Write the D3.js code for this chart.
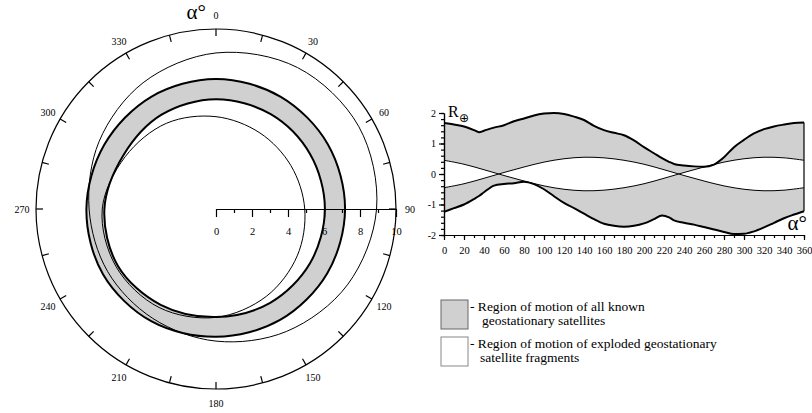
<!DOCTYPE html>
<html>
<head>
<meta charset="utf-8">
<script src="https://cdn.jsdelivr.net/npm/d3@7"></script>
<style>
  body { margin: 0; background: #fff; }
  svg { display: block; }
  svg text { font-family: "Liberation Serif", "Times New Roman", serif !important; fill: #000; }
  svg text.sym { font-family: "DejaVu Sans", sans-serif !important; }
</style>
</head>
<body>
<svg id="chart" width="812" height="413"></svg>
<script>
// ---- polar plot data (radius vs alpha, degrees clockwise from top)
var polarAngles = [0, 30, 60, 90, 120, 150, 180, 210, 240, 270, 300, 330];
var ringOuter = [7.22, 7.20, 7.18, 7.17, 7.14, 7.12, 7.10, 7.20, 7.25, 7.20, 7.16, 7.20];
var ringInner = [6.10, 6.08, 6.05, 6.05, 6.03, 6.02, 6.00, 6.15, 6.30, 6.20, 5.95, 6.05];
var fragOuter = [8.67, 9.07, 9.16, 8.92, 8.43, 7.85, 7.34, 7.02, 6.95, 7.05, 7.50, 8.10];
var fragInner = [5.13, 4.88, 4.81, 4.93, 5.21, 5.60, 6.02, 6.32, 6.41, 6.32, 5.82, 5.50];
var angleLabels = [0, 30, 60, 90, 120, 150, 180, 210, 240, 270, 300, 330];
var radialLabels = [0, 2, 4, 6, 8, 10];

// ---- right plot data (R vs alpha)
var bandAlpha = [0, 10, 20, 30, 35, 40, 50, 60, 70, 80, 90, 100, 110, 120, 130, 140, 150, 160, 170, 180,
                 190, 200, 210, 218, 225, 230, 240, 250, 260, 270, 280, 290, 300, 310, 320, 330, 340, 350, 360];
var upperR = [1.67, 1.62, 1.56, 1.44, 1.37, 1.42, 1.52, 1.60, 1.73, 1.82, 1.92, 1.98, 2.00, 1.97, 1.88, 1.77, 1.58, 1.44, 1.35, 1.27,
              1.10, 0.88, 0.68, 0.52, 0.40, 0.33, 0.28, 0.25, 0.24, 0.31, 0.55, 0.88, 1.12, 1.33, 1.47, 1.56, 1.62, 1.67, 1.69];
var lowerR = [-1.24, -1.12, -1.00, -0.82, -0.72, -0.60, -0.38, -0.33, -0.30, -0.25, -0.33, -0.50, -0.73, -0.95, -1.12, -1.30, -1.48, -1.63, -1.70, -1.73,
              -1.70, -1.62, -1.48, -1.36, -1.42, -1.52, -1.60, -1.66, -1.74, -1.82, -1.90, -1.97, -1.96, -1.88, -1.75, -1.60, -1.45, -1.33, -1.22];
var waveAlpha = [0, 20, 40, 60, 80, 100, 120, 140, 160, 180, 200, 220, 240, 260, 280, 300, 320, 340, 360];
var waveDown = [0.45, 0.32, 0.14, -0.05, -0.23, -0.39, -0.50, -0.55, -0.53, -0.45, -0.32, -0.14, 0.05, 0.23, 0.39, 0.50, 0.55, 0.53, 0.45];
var waveUp = [-0.45, -0.32, -0.14, 0.05, 0.23, 0.39, 0.50, 0.55, 0.53, 0.45, 0.32, 0.14, -0.05, -0.23, -0.39, -0.50, -0.55, -0.53, -0.45];
var xTickLabels = [0, 20, 40, 60, 80, 100, 120, 140, 160, 180, 200, 220, 240, 260, 280, 300, 320, 340, 360];
var yTickLabels = [-2, -1, 0, 1, 2];

var legendItems = [
  { fill: "#d0d0d0", stroke: "#666", lines: ["- Region of motion of all known", "geostationary satellites"] },
  { fill: "#fff", stroke: "#888", lines: ["- Region of motion of exploded geostationary", "satellite fragments"] }
];

var gray = "#d0d0d0";
var svg = d3.select("#chart");

// ================= polar plot =================
var cx = 216, cy = 209;
var r = d3.scaleLinear().domain([0, 10]).range([0, 180]);
var polar = svg.append("g").attr("transform", "translate(" + cx + "," + cy + ")");

function pts(radii) {
  return polarAngles.map(function(a, i) { return [a, radii[i]]; });
}
var radial = d3.lineRadial()
  .angle(function(d) { return d[0] * Math.PI / 180; })
  .radius(function(d) { return r(d[1]); })
  .curve(d3.curveCatmullRomClosed.alpha(0.5));

// gray ring
polar.append("path")
  .attr("d", radial(pts(ringOuter)) + radial(pts(ringInner)))
  .attr("fill", gray)
  .attr("fill-rule", "evenodd");

// fragment curves (thin)
[fragOuter, fragInner].forEach(function(rr) {
  polar.append("path").attr("d", radial(pts(rr)))
    .attr("fill", "none").attr("stroke", "#000").attr("stroke-width", 1);
});
// ring boundaries (thick)
[ringOuter, ringInner].forEach(function(rr) {
  polar.append("path").attr("d", radial(pts(rr)))
    .attr("fill", "none").attr("stroke", "#000").attr("stroke-width", 2);
});

// outer circle
polar.append("circle").attr("r", r(10))
  .attr("fill", "none").attr("stroke", "#000").attr("stroke-width", 1.2);

// angular ticks every 15 deg
d3.range(0, 360, 15).forEach(function(a) {
  var t = a * Math.PI / 180;
  polar.append("line")
    .attr("x1", Math.sin(t) * r(10)).attr("y1", -Math.cos(t) * r(10))
    .attr("x2", Math.sin(t) * (r(10) - 7)).attr("y2", -Math.cos(t) * (r(10) - 7))
    .attr("stroke", "#000").attr("stroke-width", 1.2);
});

// angle labels
angleLabels.forEach(function(a) {
  var t = a * Math.PI / 180, rr = r(10) + 14;
  polar.append("text")
    .attr("x", Math.sin(t) * rr).attr("y", -Math.cos(t) * rr)
    .attr("dy", "0.35em")
    .attr("text-anchor", "middle")
    .attr("font-size", 10)
    .text(a);
});
polar.append("text")
  .attr("x", -10).attr("y", -r(10) - 10)
  .attr("text-anchor", "end")
  .attr("font-size", 21)
  .text("α°");

// radial axis
var rAxis = polar.append("g")
  .call(d3.axisBottom(r).ticks(10).tickSize(4).tickSizeOuter(0)
    .tickFormat(function(d) { return radialLabels.indexOf(d) >= 0 ? d : ""; }));
rAxis.select(".domain").attr("stroke-width", 1.2);
rAxis.selectAll(".tick line")
  .attr("stroke-width", 1.2)
  .attr("y2", function(d) { return radialLabels.indexOf(d) >= 0 ? 8 : 4; });
rAxis.selectAll(".tick text")
  .attr("y", 19).attr("font-size", 10.5);

// ================= right plot =================
var x = d3.scaleLinear().domain([0, 360]).range([444, 804]);
var y = d3.scaleLinear().domain([-2, 2]).range([235, 113]);

var band = bandAlpha.map(function(a, i) { return { a: a, hi: upperR[i], lo: lowerR[i] }; });
var waves = waveAlpha.map(function(a, i) { return { a: a, d: waveDown[i], u: waveUp[i] }; });

var bandArea = d3.area()
  .x(function(d) { return x(d.a); })
  .y0(function(d) { return y(d.lo); })
  .y1(function(d) { return y(d.hi); })
  .curve(d3.curveMonotoneX);
svg.append("path").datum(band).attr("d", bandArea).attr("fill", gray);

var waveArea = d3.area()
  .x(function(d) { return x(d.a); })
  .y0(function(d) { return y(d.d); })
  .y1(function(d) { return y(d.u); })
  .curve(d3.curveCardinal);
svg.append("path").datum(waves).attr("d", waveArea).attr("fill", "#fff");

["d", "u"].forEach(function(k) {
  svg.append("path").datum(waves)
    .attr("d", d3.line().x(function(d) { return x(d.a); })
      .y(function(d) { return y(d[k]); }).curve(d3.curveCardinal))
    .attr("fill", "none").attr("stroke", "#000").attr("stroke-width", 1);
});

["hi", "lo"].forEach(function(k) {
  svg.append("path").datum(band)
    .attr("d", d3.line().x(function(d) { return x(d.a); })
      .y(function(d) { return y(d[k]); }).curve(d3.curveMonotoneX))
    .attr("fill", "none").attr("stroke", "#000").attr("stroke-width", 2)
    .attr("stroke-linejoin", "round");
});
// right edge of the band
var last = band[band.length - 1];
svg.append("line")
  .attr("x1", x(last.a)).attr("x2", x(last.a))
  .attr("y1", y(last.hi)).attr("y2", y(last.lo))
  .attr("stroke", "#000").attr("stroke-width", 1.2);

// y axis
var yMinor = svg.append("g").attr("transform", "translate(" + x(0) + ",0)")
  .call(d3.axisLeft(y).tickValues(d3.range(-2, 2.01, 0.2)).tickSize(3).tickSizeOuter(0).tickFormat(""));
yMinor.selectAll("line,path").attr("stroke-width", 1.2);
var yAxis = svg.append("g").attr("transform", "translate(" + x(0) + ",0)")
  .call(d3.axisLeft(y).tickValues(yTickLabels).tickSize(5).tickSizeOuter(0)
    .tickFormat(function(d) { return String(d); }));
yAxis.selectAll("line,path").attr("stroke-width", 1.2);
yAxis.selectAll("text").attr("font-size", 10).attr("x", -8);

// x axis
var xMinor = svg.append("g").attr("transform", "translate(0," + y(-2) + ")")
  .call(d3.axisBottom(x).tickValues(d3.range(0, 361, 10)).tickSize(3).tickSizeOuter(0).tickFormat(""));
xMinor.selectAll("line,path").attr("stroke-width", 1.2);
var xAxis = svg.append("g").attr("transform", "translate(0," + y(-2) + ")")
  .call(d3.axisBottom(x).tickValues(xTickLabels).tickSize(5).tickSizeOuter(0)
    .tickFormat(function(d) { return String(d); }));
xAxis.selectAll("line,path").attr("stroke-width", 1.2);
xAxis.selectAll("text").attr("font-size", 10.5).attr("y", 12);

// axis titles
var rLab = svg.append("text").attr("x", x(0) + 4).attr("y", y(2) + 4).attr("font-size", 16);
rLab.append("tspan").text("R");
svg.append("text").attr("class", "sym")
  .attr("x", x(0) + 15).attr("y", y(2) + 9).attr("font-size", 12).text("⊕");
svg.append("text").attr("x", 807).attr("y", 230).attr("text-anchor", "end")
  .attr("font-size", 21).text("α°");

// ================= legend =================
var leg = svg.append("g").attr("transform", "translate(441,300)");
legendItems.forEach(function(item, i) {
  var g = leg.append("g").attr("transform", "translate(0," + (i * 37) + ")");
  g.append("rect").attr("width", 27).attr("height", 29)
    .attr("fill", item.fill).attr("stroke", item.stroke).attr("stroke-width", 1);
  item.lines.forEach(function(t, j) {
    g.append("text")
      .attr("x", j === 0 ? 29 : (i === 0 ? 41 : 39))
      .attr("y", 11 + j * 14)
      .attr("font-size", 13.5)
      .text(t);
  });
});
</script>
</body>
</html>
